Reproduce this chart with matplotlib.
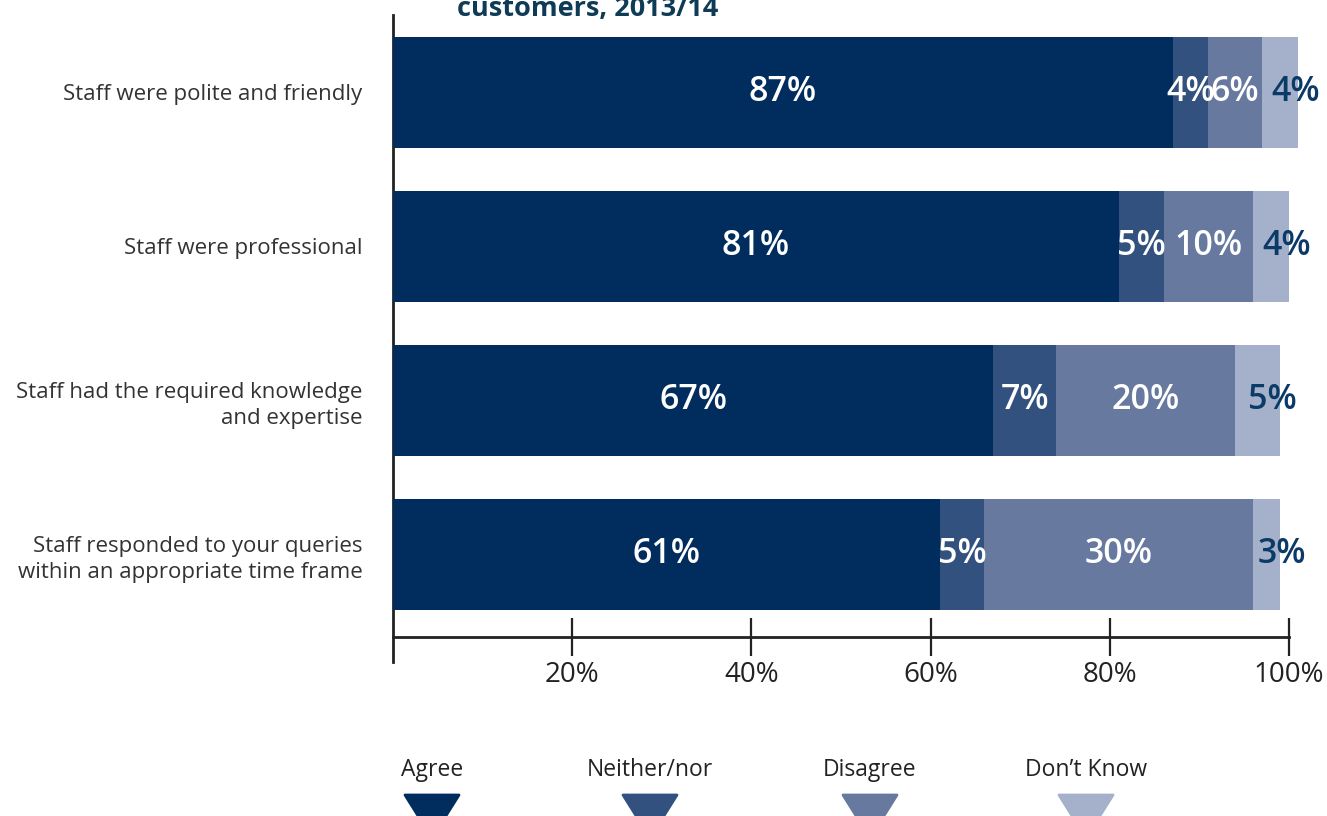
import matplotlib.pyplot as plt
from matplotlib.patches import Polygon
import numpy as np

plt.rcParams['font.family'] = ['Open Sans', 'DejaVu Sans']

# -------- DATA --------
statements = [
    "Staff were polite and friendly",
    "Staff were professional",
    "Staff had the required knowledge\nand expertise",
    "Staff responded to your queries\nwithin an appropriate time frame",
]
agree = [87, 81, 67, 61]
neither = [4, 5, 7, 5]
disagree = [6, 10, 20, 30]
dont_know = [4, 4, 5, 3]

series_names = ["Agree", "Neither/nor", "Disagree", "Don\u2019t Know"]
colors = ["#002d5e", "#33517e", "#67799f", "#a5b1ca"]
label_colors = ["white", "white", "white", "#0b3a66"]
ticks = [20, 40, 60, 80, 100]
tick_labels = ["20%", "40%", "60%", "80%", "100%"]
# ----------------------

W, H = 1327, 816
fig = plt.figure(figsize=(W / 100, H / 100), dpi=100)

left = 393 / W
width = (1289 - 393) / W
bottom = 1 - 637 / H
height = (637 - 15) / H
ax = fig.add_axes([left, bottom, width, height])

y = np.arange(len(statements))
series = [agree, neither, disagree, dont_know]
starts = np.zeros(len(statements))
for i, vals in enumerate(series):
    vals = np.array(vals, dtype=float)
    ax.barh(y, vals, left=starts, height=0.72, color=colors[i],
            edgecolor="none", clip_on=False)
    for j, v in enumerate(vals):
        cx = starts[j] + v / 2
        if i == 3:
            cx += 1.7
        ax.text(cx, y[j], f"{int(v)}%", ha="center", va="center",
                color=label_colors[i], fontsize=24.5, fontweight="semibold")
    starts += vals

ax.set_xlim(0, 100)
ax.set_ylim(3.536, -0.503)

for s in ["top", "right", "left"]:
    ax.spines[s].set_visible(False)
ax.spines["bottom"].set_linewidth(2)
ax.spines["bottom"].set_color("#222222")

# vertical line at zero, running a little below the base axis
ax.plot([0, 0], [1.0, -0.04], transform=ax.get_xaxis_transform(),
        color="#222222", lw=2, clip_on=False, zorder=0)

ax.set_xticks(ticks)
ax.set_xticklabels(tick_labels, fontsize=20, color="#222222")
ax.tick_params(axis="x", direction="inout", length=27, width=1.6,
               color="#222222", pad=4)

ax.set_yticks(y)
ax.set_yticklabels(statements, fontsize=16, color="#333333",
                   linespacing=1.3)
ax.tick_params(axis="y", length=0, pad=22)

# title fragment at the top edge
fig.text(457 / W, 1 - 16 / H, "customers, 2013/14", ha="left",
         va="baseline", fontsize=19.5, fontweight="bold", color="#0e3b55")

# legend row with triangle markers
leg = fig.add_axes([0, 0, 1, 1], zorder=-1)
leg.set_xlim(0, W)
leg.set_ylim(H, 0)
leg.axis("off")
legend_x = [432, 650, 870, 1086]
for name, col, cx in zip(series_names, colors, legend_x):
    leg.text(cx, 770, name, ha="center", va="center", fontsize=16.5,
             color="#222222")
    tri = Polygon([[cx - 27, 795], [cx + 27, 795], [cx, 838]],
                  closed=True, facecolor=col, edgecolor=col, lw=2,
                  joinstyle="round")
    leg.add_patch(tri)

fig.savefig("out.png", dpi=100)
